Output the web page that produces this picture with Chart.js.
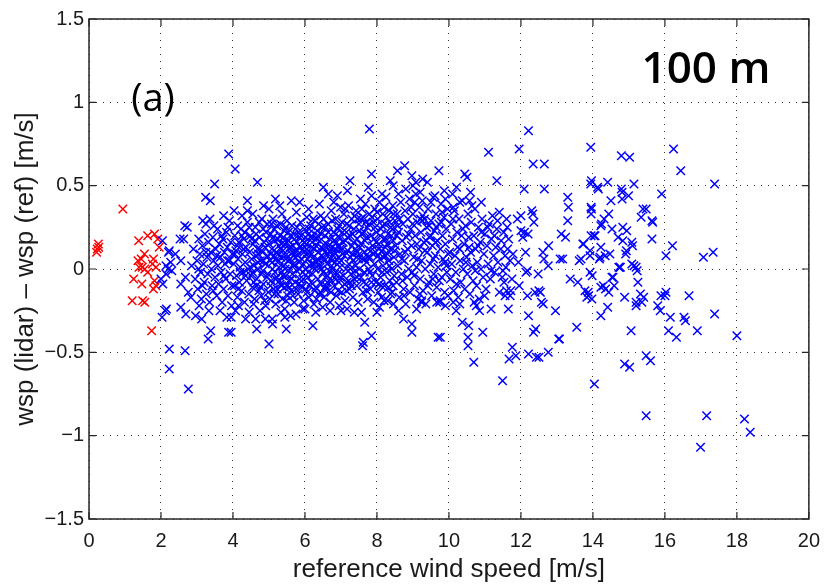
<!DOCTYPE html>
<html>
<head>
<meta charset="utf-8">
<script src="https://cdn.jsdelivr.net/npm/chart.js@4.4.0/dist/chart.umd.min.js"></script>
<style>
  html, body { margin: 0; padding: 0; background: #fff; }
  #wrap { width: 830px; height: 585px; }
</style>
</head>
<body>
<div id="wrap"><canvas id="chart" width="830" height="585"></canvas></div>
<script>
// Axis ticks
const xTicks = [0, 2, 4, 6, 8, 10, 12, 14, 16, 18, 20];
const yTicks = [-1.5, -1, -0.5, 0, 0.5, 1, 1.5];

// Red points: reference wind speed below 2 m/s  [ref speed, lidar - ref]
const redPoints = [[0.21,0.10],[0.23,0.12],[0.26,0.15],[0.27,0.13],[0.94,0.36],[1.2,-0.19],[1.24,-0.06],[1.36,0.05],[1.38,0.17],[1.39,0.01],[1.45,0.06],[1.47,-0.09],[1.48,0.01],[1.49,-0.19],[1.54,0.09],[1.55,0.0],[1.55,-0.2],[1.63,0.20],[1.63,-0.02],[1.74,-0.37],[1.76,0.03],[1.79,0.06],[1.79,-0.12],[1.82,0.21],[1.82,-0.07],[1.86,0.01],[1.86,-0.1],[1.91,0.18],[1.95,0.13]];

// Blue points, split by wind speed range
const blue2to4 = [[2.04,0.17],[2.23,0.11],[2.27,0.04],[2.2,0.0],[2.14,-0.03],[2.0,-0.06],[2.05,-0.09],[2.15,-0.24],[2.03,-0.29],[2.3,-0.01],[2.4,0.09],[2.66,0.26],[2.73,0.25],[2.53,0.18],[2.63,0.18],[2.21,0.10],[2.14,0.02],[2.55,0.05],[2.55,-0.09],[2.68,-0.05],[2.76,-0.14],[2.83,-0.17],[2.12,-0.25],[2.55,-0.23],[2.69,-0.27],[2.96,-0.28],[2.23,-0.48],[2.67,-0.49],[2.23,-0.60],[2.76,-0.72],
  [3.24,0.43],[3.37,0.41],[3.49,0.51],[3.88,0.69],[3.74,0.32],[3.25,0.27],[3.47,0.26],[3.86,0.25],[3.13,-0.30],[3.33,-0.25],[3.38,-0.37],[3.31,-0.42],[3.88,-0.38],[3.95,-0.38],[3.83,-0.29],[3.95,-0.29],
  [2.85,0.02],[2.9,0.12],[2.95,-0.06],[3.0,0.05],[3.02,-0.12],[3.05,0.18],[3.08,0.09],[3.1,-0.02],[3.12,-0.18],[3.15,0.14],[3.18,0.03],[3.2,-0.08],[3.22,0.21],[3.26,-0.15],[3.28,0.07],[3.3,-0.03],[3.32,0.16],[3.35,-0.2],[3.38,0.1],[3.4,0.0],[3.42,-0.1],[3.44,0.19],[3.46,0.05],[3.5,-0.05],[3.52,0.12],[3.55,-0.16],[3.57,0.24],[3.58,0.02],[3.6,-0.09],[3.62,0.15],[3.65,0.07],[3.67,-0.02],[3.7,-0.2],[3.72,0.18],[3.74,-0.12],[3.76,0.1],[3.78,0.03],[3.8,-0.06],[3.82,0.22],[3.84,0.13],[3.86,-0.16],[3.9,0.05],[3.92,-0.03],[3.94,0.16],[3.96,-0.22],[3.98,0.09],[3.06,-0.22],[3.16,0.29],[3.36,0.3],[3.64,-0.25],[3.9,0.29],
  [3.05,0.0],[3.15,-0.1],[3.25,0.1],[3.45,-0.13],[3.55,0.08],[3.68,0.2],[3.75,-0.04],[3.85,0.05],[3.97,-0.1]];

const blue4to5 = [[4.06,0.60],[4.68,0.52],[4.40,0.41],[4.40,0.35],[4.13,0.26],[4.15,-0.22],[4.35,-0.30],[4.63,-0.30],[4.66,-0.36],[5.0,-0.45],
  [4.02,0.03],[4.04,-0.1],[4.05,0.2],[4.08,0.11],[4.1,-0.04],[4.12,-0.17],[4.14,0.06],[4.16,0.16],[4.18,-0.08],[4.2,0.01],[4.22,0.24],[4.24,-0.13],[4.26,0.09],[4.28,-0.02],[4.3,0.18],[4.32,-0.2],[4.34,0.04],[4.36,0.13],[4.38,-0.07],[4.4,0.28],[4.42,0.0],[4.44,-0.15],[4.46,0.1],[4.48,0.2],[4.5,-0.04],[4.52,0.06],[4.54,-0.11],[4.56,0.15],[4.58,0.02],[4.6,-0.18],[4.62,0.25],[4.64,0.08],[4.66,-0.06],[4.68,0.12],[4.7,0.0],[4.72,-0.13],[4.74,0.19],[4.76,0.05],[4.78,-0.03],[4.8,0.3],[4.82,0.1],[4.84,-0.09],[4.86,0.16],[4.88,-0.19],[4.9,0.03],[4.92,0.22],[4.94,-0.05],[4.96,0.08],[4.98,-0.14],
  [4.07,-0.25],[4.25,0.32],[4.45,-0.26],[4.55,0.33],[4.75,-0.25],[4.85,0.38],[4.95,0.27],[4.12,0.14],[4.33,0.22],[4.57,-0.21],[4.73,0.28],[4.91,-0.22],[4.2,-0.02],[4.48,0.01],[4.69,0.04],[4.83,-0.01],[4.03,0.35],[4.29,0.12],[4.61,0.17],[4.79,-0.16],
  [4.05,0.09],[4.15,-0.12],[4.25,0.2],[4.35,-0.04],[4.45,0.25],[4.55,-0.02],[4.65,-0.1],[4.75,0.12],[4.85,0.05],[4.95,0.18]];

const blue5to7 = [[5.02,-0.18],[5.03,0.05],[5.05,0.21],[5.06,-0.07],[5.08,0.12],[5.1,0.0],[5.11,0.3],[5.13,-0.12],[5.14,0.08],[5.16,0.17],[5.17,-0.02],[5.19,-0.21],[5.2,0.1],
  [5.21,0.26],[5.22,-0.05],[5.24,0.04],[5.25,-0.15],[5.27,0.14],[5.28,0.01],[5.3,0.2],[5.31,-0.09],[5.33,0.07],[5.34,-0.02],[5.36,0.33],[5.37,-0.18],[5.39,0.11],
  [5.41,0.02],[5.42,0.23],[5.43,-0.11],[5.45,0.08],[5.47,-0.04],[5.49,0.16],[5.5,0.29],[5.52,-0.16],[5.53,0.05],[5.55,-0.07],[5.56,0.12],[5.58,0.0],[5.59,0.2],
  [5.61,-0.13],[5.62,0.09],[5.64,0.26],[5.65,-0.03],[5.67,0.14],[5.68,0.03],[5.7,-0.2],[5.71,0.18],[5.73,-0.08],[5.74,0.07],[5.76,0.34],[5.77,-0.01],[5.79,0.11],
  [5.81,-0.15],[5.82,0.22],[5.84,0.04],[5.85,-0.06],[5.87,0.13],[5.88,0.28],[5.9,-0.1],[5.91,0.06],[5.93,0.17],[5.94,-0.02],[5.96,-0.19],[5.97,0.1],[5.99,0.24],
  [6.01,0.0],[6.02,-0.12],[6.04,0.15],[6.05,0.31],[6.07,0.06],[6.08,-0.05],[6.1,0.21],[6.11,-0.17],[6.13,0.1],[6.14,0.02],[6.16,0.26],[6.17,-0.08],[6.19,0.13],
  [6.21,-0.03],[6.22,0.19],[6.24,0.07],[6.25,-0.21],[6.27,0.29],[6.28,0.0],[6.3,-0.11],[6.31,0.14],[6.33,0.04],[6.34,0.23],[6.36,-0.06],[6.37,0.1],[6.39,-0.15],
  [6.41,0.17],[6.42,0.01],[6.44,0.32],[6.45,-0.09],[6.47,0.08],[6.48,0.25],[6.5,-0.02],[6.51,0.12],[6.53,-0.17],[6.54,0.05],[6.56,0.2],[6.57,-0.05],[6.59,0.15],
  [6.61,-0.12],[6.62,0.03],[6.64,0.27],[6.65,0.09],[6.67,-0.01],[6.68,0.18],[6.7,-0.2],[6.71,0.06],[6.73,0.35],[6.74,-0.07],[6.76,0.13],[6.77,0.0],[6.79,0.22],
  [6.81,-0.1],[6.82,0.1],[6.84,0.04],[6.85,0.3],[6.87,-0.16],[6.88,0.16],[6.9,-0.03],[6.91,0.24],[6.93,0.07],[6.94,-0.08],[6.96,0.19],[6.97,0.01],[6.99,0.37],
  [5.04,-0.1],[5.12,0.19],[5.18,-0.06],[5.26,0.09],[5.32,0.27],[5.38,-0.04],[5.44,0.15],[5.48,-0.19],[5.54,0.22],[5.6,0.06],[5.66,-0.16],[5.72,0.11],[5.78,0.25],[5.86,0.0],[5.92,-0.11],[5.98,0.16],[6.06,-0.14],[6.12,0.24],[6.18,0.03],[6.26,0.12],[6.32,-0.18],[6.38,0.27],[6.46,0.0],[6.52,0.3],[6.58,-0.1],[6.66,0.14],[6.72,-0.14],[6.78,0.08],[6.86,0.21],[6.92,-0.13],[6.98,0.12],
  [5.09,0.04],[5.23,-0.12],[5.35,0.15],[5.46,0.06],[5.57,-0.11],[5.69,0.21],[5.8,0.08],[5.95,0.03],[6.03,0.09],[6.15,-0.1],[6.23,0.3],[6.35,0.06],[6.43,-0.14],[6.55,0.1],[6.63,-0.04],[6.75,0.29],[6.83,-0.03],[6.95,0.26],
  [5.05,0.09],[5.15,0.24],[5.25,0.18],[5.35,-0.1],[5.45,0.0],[5.55,0.17],[5.65,0.1],[5.75,-0.12],[5.85,0.19],[5.95,-0.06],[6.05,0.12],[6.15,0.19],[6.25,0.03],[6.35,0.2],[6.45,0.13],[6.55,-0.12],[6.65,0.22],[6.75,0.05],[6.85,0.12],[6.95,0.04],
  [5.18,0.42],[5.62,0.41],[5.09,-0.30],[5.1,-0.33],[5.44,-0.24],[5.44,-0.29],[5.48,-0.36],[5.94,-0.24],[6.0,-0.24],[6.22,-0.34],[6.49,-0.23],[6.51,0.49],[6.65,0.45],[5.3,0.38],[5.85,0.4],[6.1,0.36],[6.4,0.39],[6.9,0.44],[5.6,-0.28],[5.75,-0.27],[6.3,-0.26],[6.7,-0.25],[6.95,-0.22],[5.33,-0.26],[4.9,-0.3],[5.0,0.36],[6.8,0.4]];

const blue7to8 = [[7.79,0.84],[7.85,0.57],[7.25,0.53],[7.18,0.47],[7.76,0.49],[8.14,0.45],[8.37,0.53],[8.45,0.50],[7.0,-0.25],[7.17,-0.24],[7.57,-0.26],[7.66,-0.32],[7.85,-0.40],[7.62,-0.44],[7.6,-0.46],[8.0,-0.26],[8.07,-0.23],[8.46,-0.21],[7.37,-0.26],[8.2,-0.19],
  [7.01,0.05],[7.02,-0.14],[7.04,0.22],[7.05,0.12],[7.07,-0.04],[7.08,0.33],[7.1,0.08],[7.11,-0.19],[7.13,0.17],[7.14,0.0],[7.16,0.27],[7.17,-0.08],[7.19,0.11],
  [7.21,0.38],[7.22,0.03],[7.24,-0.12],[7.25,0.2],[7.27,0.07],[7.28,-0.03],[7.3,0.3],[7.31,0.14],[7.33,-0.17],[7.34,0.05],[7.36,0.24],[7.37,-0.06],[7.39,0.12],
  [7.41,0.02],[7.42,0.35],[7.44,-0.1],[7.45,0.18],[7.47,0.08],[7.48,-0.2],[7.5,0.27],[7.51,0.0],[7.53,0.13],[7.54,0.42],[7.56,-0.05],[7.57,0.21],[7.59,0.06],
  [7.61,-0.14],[7.62,0.31],[7.64,0.1],[7.65,-0.02],[7.67,0.17],[7.68,0.39],[7.7,-0.09],[7.71,0.04],[7.73,0.25],[7.74,-0.18],[7.76,0.12],[7.77,0.0],[7.79,0.33],
  [7.81,0.07],[7.82,-0.12],[7.84,0.2],[7.85,0.44],[7.87,-0.04],[7.88,0.14],[7.9,0.28],[7.91,-0.2],[7.93,0.03],[7.94,0.36],[7.96,0.1],[7.97,-0.08],[7.99,0.22],
  [8.01,0.0],[8.02,0.3],[8.04,-0.14],[8.05,0.15],[8.07,0.4],[8.08,0.06],[8.1,-0.05],[8.11,0.24],[8.13,-0.17],[8.14,0.11],[8.16,0.33],[8.17,0.02],[8.19,0.18],
  [8.21,-0.1],[8.22,0.27],[8.24,0.08],[8.25,0.43],[8.27,-0.02],[8.28,0.15],[8.3,-0.19],[8.31,0.21],[8.33,0.05],[8.34,0.35],[8.36,-0.07],[8.37,0.12],[8.39,0.25],
  [8.41,0.0],[8.42,-0.14],[8.44,0.38],[8.45,0.17],[8.47,0.07],[8.48,-0.04],[8.5,0.29],
  [7.06,0.16],[7.15,-0.13],[7.23,0.26],[7.32,0.09],[7.4,-0.01],[7.46,0.3],[7.55,0.15],[7.63,-0.08],[7.72,0.19],[7.8,-0.02],[7.89,0.09],[7.98,0.16],[8.06,-0.09],[8.15,0.26],[8.23,0.13],[8.32,-0.11],[8.4,0.2],[8.49,0.11],[7.12,0.36],[7.29,-0.1],[7.49,0.06],[7.69,0.28],[7.86,0.31],[8.03,0.08],[8.2,0.37],[8.35,0.02],
  [7.05,0.09],[7.15,0.22],[7.25,-0.08],[7.35,0.16],[7.45,0.1],[7.55,0.3],[7.65,0.22],[7.75,0.07],[7.85,-0.08],[7.95,0.25],[8.05,0.12],[8.15,-0.02],[8.25,0.18],[8.35,0.28],[8.45,-0.1]];

const blue8to10 = [[8.77,0.62],[8.57,0.59],[8.97,0.56],[9.72,0.59],[9.27,0.54],[9.40,0.52],[9.08,0.52],[9.61,0.44],[9.87,0.47],[9.27,0.32],[8.74,-0.30],[8.97,-0.33],[8.97,-0.38],[9.24,-0.19],[9.70,-0.41],[9.76,-0.41],[9.76,-0.19],[9.24,-0.20],[9.66,-0.2],
  [8.52,0.14],[8.54,-0.08],[8.56,0.33],[8.58,0.02],[8.6,0.22],[8.62,-0.17],[8.64,0.09],[8.66,0.4],[8.68,-0.03],[8.7,0.17],[8.72,0.27],[8.74,-0.12],[8.76,0.05],[8.78,0.35],[8.8,-0.21],[8.82,0.19],[8.84,-0.05],[8.86,0.3],[8.88,0.0],[8.9,0.42],[8.92,-0.14],[8.94,0.24],[8.96,0.14],[8.98,-0.02],
  [9.0,0.33],[9.02,0.07],[9.04,-0.1],[9.06,0.2],[9.08,0.45],[9.1,0.01],[9.12,0.28],[9.14,-0.18],[9.16,0.12],[9.18,0.37],[9.2,-0.06],[9.22,0.22],[9.24,0.05],[9.26,0.41],[9.28,-0.13],[9.3,0.16],[9.32,0.3],[9.34,0.0],[9.36,-0.21],[9.38,0.25],[9.4,0.1],[9.42,0.36],[9.44,-0.08],[9.46,0.19],
  [9.48,0.03],[9.5,0.29],[9.52,-0.16],[9.54,0.14],[9.56,0.43],[9.58,-0.03],[9.6,0.23],[9.62,0.08],[9.64,0.33],[9.66,-0.11],[9.68,0.17],[9.7,0.01],[9.72,0.27],[9.74,-0.2],[9.76,0.12],[9.78,0.39],[9.8,-0.05],[9.82,0.2],[9.84,0.06],[9.86,0.31],[9.88,-0.14],[9.9,0.15],[9.92,0.24],[9.94,-0.02],[9.96,0.36],[9.98,0.09],
  [8.55,0.2],[8.63,0.3],[8.71,-0.07],[8.79,0.1],[8.87,0.21],[8.95,0.37],[9.03,-0.04],[9.11,0.15],[9.19,-0.15],[9.25,0.29],[9.33,0.11],[9.41,-0.1],[9.49,0.2],[9.57,0.06],[9.65,0.25],[9.73,-0.07],[9.81,0.34],[9.89,0.04],[9.97,-0.16],
  [8.6,0.45],[8.8,0.48],[9.0,0.5],[9.2,0.46],[9.5,0.4],[9.9,0.42],[9.9,-0.22],[9.1,-0.24],[8.6,-0.25]];

// Extra points filling the dense core between 4.5 and 10 m/s
const blueCore = [[4.52,0.18],[4.58,-0.08],[4.64,0.21],[4.71,0.09],[4.77,-0.11],[4.84,0.24],[4.89,0.13],[4.97,-0.03],[5.01,0.15],[5.07,0.27],[5.15,-0.15],[5.21,0.06],[5.29,-0.07],[5.34,0.12],[5.4,0.19],[5.47,0.25],[5.51,-0.1],[5.58,0.13],[5.63,-0.06],[5.7,0.02],[5.77,0.16],[5.83,-0.09],[5.89,0.2],[5.95,0.12],[6.02,0.19],[6.09,-0.02],[6.14,0.08],[6.2,0.16],[6.27,-0.13],[6.33,0.18],[6.39,0.03],[6.45,0.21],[6.5,0.07],[6.57,0.25],[6.62,-0.08],[6.69,0.11],[6.74,0.02],[6.8,0.17],[6.86,-0.06],[6.92,0.14],[6.99,-0.05],[7.03,0.28],[7.1,-0.09],[7.18,0.19],[7.26,0.0],[7.33,0.21],[7.38,0.32],[7.45,-0.05],[7.52,0.23],[7.58,0.36],[7.66,0.06],[7.71,-0.13],[7.78,0.27],[7.83,0.11],[7.92,0.18],[8.0,0.34],[8.09,0.2],[8.12,-0.1],[8.18,0.07],[8.26,0.31],[8.29,0.09],[8.38,-0.15],[8.43,0.24],[8.46,0.33],[8.58,0.26],[8.69,0.06],[8.75,-0.16],[8.85,0.12],[8.99,0.27],[9.05,0.4],[9.13,0.06],[9.21,0.3],[9.37,0.17],[9.45,0.26],[9.55,-0.06],[9.63,0.16],[9.79,0.28],[9.93,0.02]];

const blue10to13 = [[10.44,0.57],[10.5,0.55],[10.21,0.49],[10.57,0.41],[10.12,0.37],[11.10,0.70],[11.33,0.53],[10.37,-0.32],[10.55,-0.34],[10.53,-0.41],[10.53,-0.46],[10.69,-0.56],[10.12,-0.20],[11.49,-0.67],[11.65,-0.24],[11.6,-0.13],[11.7,-0.16],[11.40,-0.14],[11.17,-0.24],[10.94,-0.38],[10.3,-0.21],[10.76,-0.22],[10.85,-0.25],
  [10.02,0.1],[10.04,-0.06],[10.06,0.27],[10.08,0.03],[10.1,0.18],[10.13,-0.13],[10.15,0.35],[10.17,0.08],[10.19,-0.02],[10.22,0.22],[10.24,0.13],[10.26,-0.17],[10.28,0.3],[10.31,0.05],[10.33,-0.08],[10.35,0.2],[10.37,0.41],[10.4,0.0],[10.42,0.15],[10.44,-0.12],[10.46,0.26],[10.49,0.07],[10.51,-0.03],[10.53,0.33],[10.55,0.19],[10.58,-0.15],[10.6,0.1],[10.62,0.28],[10.65,0.02],[10.67,-0.07],[10.69,0.2],[10.72,0.36],[10.74,0.12],[10.77,-0.1],[10.79,0.04],[10.82,0.25],[10.84,-0.18],[10.87,0.16],[10.89,0.0],[10.92,0.3],[10.95,-0.05],[10.97,0.09],[11.0,0.21],[11.03,-0.12],[11.06,0.14],[11.09,0.03],[11.12,0.27],[11.15,-0.06],[11.18,0.18],[11.21,0.32],[11.24,0.08],[11.27,-0.02],[11.3,0.13],[11.33,0.24],[11.36,0.04],[11.4,0.34],[11.44,0.12],[11.48,-0.05],
  [10.11,0.3],[10.21,-0.09],[10.3,0.12],[10.39,0.24],[10.47,0.04],[10.56,0.13],[10.64,0.38],[10.73,-0.01],[10.81,0.14],[10.9,0.22],[10.99,-0.16],[11.08,0.25],[11.17,-0.01],[11.26,0.2],[11.35,0.29],[11.45,0.17],
  [10.1,0.45],[10.3,0.4],[10.6,0.46],[10.9,0.4],[10.7,-0.2],[10.2,-0.25],
  [11.52,0.22],[11.56,0.08],[11.6,0.3],[11.63,0.12],[11.58,0.01],[11.5,-0.01],[11.66,0.18],[11.72,-0.13],[11.56,-0.16],[11.7,0.05],[11.78,0.09],[11.53,-0.08],[11.62,0.25],[11.75,-0.06],[11.76,-0.47],[11.86,-0.52],[11.67,-0.54],
  [11.95,0.72],[12.21,0.83],[12.34,0.63],[12.65,0.63],[12.09,0.48],[12.65,0.48],[12.30,0.35],[12.33,0.33],[12.36,0.28],[11.90,0.30],[12.0,0.32],[12.0,0.23],[12.1,0.22],[12.2,0.21],[12.05,0.19],[12.13,0.10],[11.93,0.04],[12.77,0.14],[12.61,0.10],[12.64,0.06],[12.76,0.02],[12.18,-0.01],[12.48,-0.03],[12.14,-0.02],[11.95,-0.10],[12.18,-0.16],[12.39,-0.14],[12.54,-0.14],[12.57,-0.20],[12.62,-0.21],[12.5,-0.13],[12.21,-0.28],[12.96,-0.25],[12.41,-0.36],[12.35,-0.38],[13.05,-0.42],[12.21,-0.51],[12.43,-0.53],[12.76,-0.50],[12.5,-0.53]];

const blue13plus = [[13.94,0.73],[14.79,0.68],[15.02,0.67],[13.94,0.51],[13.96,0.53],[14.13,0.49],[14.41,0.52],[15.14,0.51],[14.81,0.46],[14.81,0.42],[14.99,0.44],[15.91,0.45],[13.30,0.43],[13.32,0.37],[13.30,0.29],[14.50,0.41],[13.95,0.37],[13.96,0.36],[13.95,0.33],[14.44,0.33],[14.31,0.30],[14.22,0.26],[15.39,0.36],[15.48,0.36],[15.34,0.31],[15.64,0.29],[15.66,0.28],[14.53,0.24],[14.83,0.25],[14.94,0.23],[14.70,0.19],[14.83,0.17],[15.08,0.16],[15.10,0.14],[15.64,0.18],[13.12,0.21],[13.24,0.19],[13.95,0.20],[14.03,0.20],[13.72,0.15],[13.92,0.11],[14.22,0.13],[14.93,0.11],[14.91,0.09],[14.47,0.09],[14.34,0.08],[14.18,0.06],[13.92,0.08],[13.67,0.06],[13.62,0.05],[13.09,0.06],[13.16,0.06],[14.72,0.01],[14.76,0.01],[15.08,0.03],[15.14,0.02],[15.20,0.01],[15.23,-0.01],[16.03,0.08],[16.21,0.14],[17.07,0.07],[17.34,0.10],[13.37,-0.06],[13.58,-0.08],[13.92,-0.02],[13.98,-0.04],[14.53,-0.05],[14.59,-0.10],[14.22,-0.11],[14.35,-0.12],[14.44,-0.14],[15.25,-0.08],[13.78,-0.13],[13.87,-0.14],[13.83,-0.17],[13.97,-0.18],[13.88,-0.16],[14.88,-0.17],[15.32,-0.15],[15.41,-0.17],[15.20,-0.20],[15.20,-0.22],[15.36,-0.20],[15.89,-0.16],[16.03,-0.14],[16.0,-0.16],[16.67,-0.16],[15.80,-0.22],[15.87,-0.25],[16.15,-0.29],[16.53,-0.29],[16.57,-0.31],[17.38,-0.27],[14.41,-0.23],[14.22,-0.28],[13.55,-0.35],[13.07,-0.42],[15.06,-0.37],[16.10,-0.37],[16.32,-0.41],[16.90,-0.37],[18.0,-0.40],[15.48,-0.52],[15.60,-0.55],[14.88,-0.57],[15.02,-0.59],[14.04,-0.69],[15.48,-0.88],[17.16,-0.88],[18.21,-0.90],[18.37,-0.98],[16.99,-1.07],[16.24,0.72],[16.44,0.59],[17.38,0.51],[14.15,0.48],[14.79,0.48],[14.29,-0.10],[14.56,-0.05],[14.75,0.01],[13.74,0.15],[14.06,0.20],[14.2,0.07],[14.24,0.27]];

const bluePoints = [...blue2to4, ...blue4to5, ...blue5to7, ...blue7to8, ...blue8to10, ...blueCore, ...blue10to13, ...blue13plus];

const toXY = arr => arr.map(p => ({ x: p[0], y: p[1] }));
const fmt = v => String(v).replace('-', '\u2212');
const textColor = '#1a1a1a';
const tickFont = { family: '"Liberation Sans", Arial', size: 20 };
const titleFont = { family: '"Liberation Sans", Arial', size: 26 };

// Box + inward ticks + panel labels, MATLAB style
const framePlugin = {
    id: 'frame',
    afterDraw(chart) {
        const { ctx, chartArea: a, scales } = chart;
        ctx.save();
        ctx.strokeStyle = '#262626';
        ctx.lineWidth = 1.5;
        ctx.strokeRect(a.left, a.top, a.right - a.left, a.bottom - a.top);
        ctx.lineWidth = 1.2;
        ctx.beginPath();
        xTicks.forEach(t => {
            const px = scales.x.getPixelForValue(t);
            ctx.moveTo(px, a.bottom); ctx.lineTo(px, a.bottom - 7);
            ctx.moveTo(px, a.top); ctx.lineTo(px, a.top + 7);
        });
        yTicks.forEach(t => {
            const py = scales.y.getPixelForValue(t);
            ctx.moveTo(a.left, py); ctx.lineTo(a.left + 7, py);
            ctx.moveTo(a.right, py); ctx.lineTo(a.right - 7, py);
        });
        ctx.stroke();

        ctx.fillStyle = '#000';
        ctx.textAlign = 'center';
        ctx.textBaseline = 'middle';
        ctx.font = '500 38px "Open Sans"';
        ctx.fillText('(a)', 153, 100);
        ctx.font = '600 44px "Open Sans"';
        ctx.fillText('100 m', 706, 70);
        ctx.restore();
    }
};

const ctx = document.getElementById('chart').getContext('2d');
new Chart(ctx, {
    type: 'scatter',
    data: {
        datasets: [{
            data: toXY(bluePoints),
            pointStyle: 'crossRot',
            radius: 6,
            borderColor: '#0000ff',
            backgroundColor: '#0000ff',
            borderWidth: 1.5
        }, {
            data: toXY(redPoints),
            pointStyle: 'crossRot',
            radius: 6,
            borderColor: '#ff0000',
            backgroundColor: '#ff0000',
            borderWidth: 1.5
        }]
    },
    options: {
        responsive: false,
        animation: false,
        layout: { padding: { top: 19, right: 14, left: 0, bottom: 0 } },
        plugins: {
            legend: { display: false },
            tooltip: { enabled: false }
        },
        scales: {
            x: {
                type: 'linear',
                min: 0, max: 20,
                afterBuildTicks: s => { s.ticks = xTicks.map(v => ({ value: v })); },
                afterFit: s => { s.height = 66; },
                grid: { color: '#333', lineWidth: 1, drawTicks: false },
                border: { display: false, dash: [1, 6] },
                ticks: { color: textColor, padding: 10, maxRotation: 0, font: tickFont, callback: fmt },
                title: { display: true, text: 'reference wind speed [m/s]', color: textColor, padding: { top: 0, bottom: 0 }, font: titleFont }
            },
            y: {
                type: 'linear',
                min: -1.5, max: 1.5,
                afterBuildTicks: s => { s.ticks = yTicks.map(v => ({ value: v })); },
                afterFit: s => { s.width = 89; },
                grid: { color: '#333', lineWidth: 1, drawTicks: false },
                border: { display: false, dash: [1, 6] },
                ticks: { color: textColor, padding: 5, font: tickFont, callback: fmt },
                title: { display: true, text: 'wsp (lidar) \u2013 wsp (ref) [m/s]', color: textColor, padding: { top: 10, bottom: 0 }, font: titleFont }
            }
        }
    },
    plugins: [framePlugin]
});
</script>
</body>
</html>
